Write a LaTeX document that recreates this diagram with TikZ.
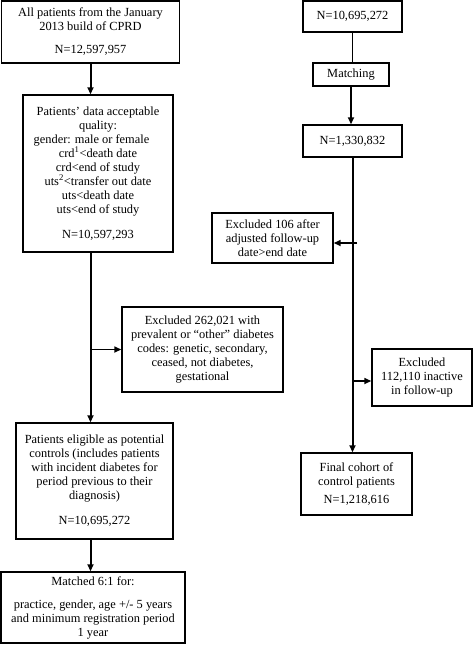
\documentclass[tikz,border=0pt]{standalone}
\usepackage{fontspec}
\setmainfont{Liberation Serif}
\usetikzlibrary{arrows.meta}
\tikzset{
    >={Triangle[length=7pt,width=6pt]},
    box/.style={draw, line width=1.4pt, align=center, inner sep=0pt},
    flow/.style={->, line width=2pt},
    side/.style={->, line width=1.6pt},
    link/.style={line width=1pt}
}
\newcommand{\boxfont}{\fontsize{12.4}{14}\selectfont}

\begin{document}
\begin{tikzpicture}[x=1pt, y=-1pt, font=\boxfont]
    \useasboundingbox (0,0) rectangle (473,646);
    % left column
    \node[box, minimum width=178pt, minimum height=62pt] (all) at (90.5,32)
        {All patients from the January\\2013 build of CPRD\\[9pt]N=12,597,957};
    \node[box, minimum width=150pt, minimum height=157pt] (qual) at (98,173.5)
        {Patients’ data acceptable\\quality:\\gender: male or female\rule{13pt}{0pt}\\
         crd\textsuperscript{1}<death date\\crd<end of study\\
         uts\textsuperscript{2}<transfer out date\\uts<death date\\uts<end of study\\[11pt]N=10,597,293};
    \node[box, minimum width=161pt, minimum height=85pt] (excl1) at (202.5,349.5)
        {Excluded 262,021 with\\prevalent or “other” diabetes\\codes: genetic, secondary,\\ceased, not diabetes,\\gestational};
    \node[box, minimum width=157pt, minimum height=116pt] (elig) at (94.5,481)
        {Patients eligible as potential\\controls (includes patients\\with incident diabetes for\\period previous to their\\diagnosis)\\[11pt]N=10,695,272};
    \node[box, minimum width=184pt, minimum height=71pt] (match6) at (93,607.5)
        {Matched 6:1 for:\\[9pt]practice, gender, age +/- 5 years\\and minimum registration period\\1 year};
    % right column
    \node[box, minimum width=99pt, minimum height=31pt] (pool) at (352.5,16.5) {N=10,695,272};
    \node[box, minimum width=76pt, minimum height=23pt] (matching) at (351,74.5) {Matching};
    \node[box, minimum width=99pt, minimum height=32pt] (matched) at (352.5,141) {N=1,330,832};
    \node[box, minimum width=121pt, minimum height=50pt] (excl2) at (272.5,238)
        {Excluded 106 after\\adjusted follow-up\\date>end date};
    \node[box, minimum width=100pt, minimum height=57pt] (excl3) at (422,377.5)
        {Excluded\\112,110 inactive\\in follow-up};
    \node[box, minimum width=111pt, minimum height=62pt] (final) at (356.5,484)
        {Final cohort of\\control patients\\[4pt]N=1,218,616};

    \coordinate (tap2) at (357,243);
    \coordinate (tap3) at (352.5,381);

    \draw[flow] (all) -- (all |- qual.north);
    \draw[flow] (qual.south -| all) -- (elig.north -| all);
    \draw[side] (excl1.west -| all) -- (excl1.west);
    \draw[flow] (elig.south -| all) -- (match6.north -| all);

    \draw[link] (pool) -- (pool |- matching.north);
    \draw[flow] (matching) -- (matching |- matched.north);
    \draw[flow] (matched) -- (matched |- final.north);
    \draw[side] (tap2) -- (tap2 -| excl2.east);
    \draw[side] (tap3) -- (tap3 -| excl3.west);
\end{tikzpicture}
\end{document}
